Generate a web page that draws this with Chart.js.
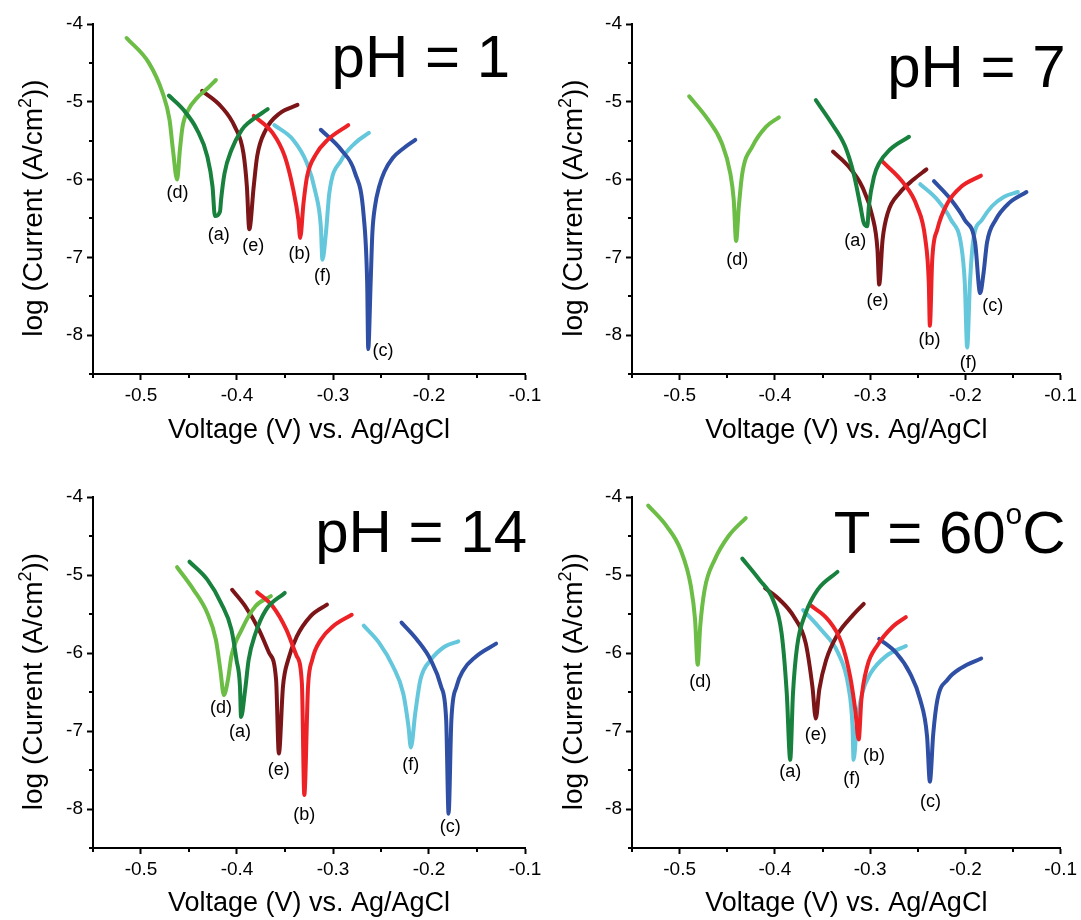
<!DOCTYPE html>
<html>
<head>
<meta charset="utf-8">
<title>Tafel plots</title>
<script src="https://cdn.jsdelivr.net/npm/chart.js@4.4.1/dist/chart.umd.min.js"></script>
<style>
  body { margin: 0; background: #fff; }
  #wrap { position: relative; width: 1081px; height: 920px; overflow: hidden; }
  #wrap canvas { position: absolute; }
</style>
</head>
<body>
<div id="wrap">
  <canvas id="c1" width="560" height="460" style="left:0;top:0"></canvas>
  <canvas id="c2" width="541" height="460" style="left:540px;top:0"></canvas>
  <canvas id="c3" width="560" height="460" style="left:0;top:460px"></canvas>
  <canvas id="c4" width="541" height="460" style="left:540px;top:460px"></canvas>
</div>
<script>
const FONT = '"Liberation Sans", Arial, Helvetica, sans-serif';
Chart.defaults.font.family = FONT;
Chart.defaults.color = '#000';

// each point: [voltage vs Ag/AgCl (V), log current (A/cm2)]
// pH = 1
const ph1_a = [[-0.471,-4.92],[-0.456,-5.10],[-0.4416,-5.36],[-0.431,-5.70],[-0.4255,-6.09],[-0.423,-6.47],[-0.4177,-6.41],[-0.4166,-6.26],[-0.413,-5.92],[-0.4058,-5.62],[-0.395,-5.36],[-0.388,-5.27],[-0.368,-5.095]];
const ph1_b = [[-0.3826,-5.18],[-0.3629,-5.40],[-0.3503,-5.70],[-0.3414,-6.13],[-0.336,-6.52],[-0.3342,-6.75],[-0.3307,-6.30],[-0.327,-5.96],[-0.318,-5.68],[-0.3056,-5.49],[-0.2841,-5.30]];
const ph1_c = [[-0.3127,-5.36],[-0.2913,-5.62],[-0.2769,-5.92],[-0.268,-6.47],[-0.2644,-7.33],[-0.2633,-8.18],[-0.2608,-7.33],[-0.259,-6.69],[-0.2562,-6.34],[-0.2519,-6.09],[-0.2465,-5.90],[-0.2376,-5.72],[-0.2268,-5.60],[-0.2143,-5.49]];
const ph1_d = [[-0.515,-4.18],[-0.4918,-4.50],[-0.4774,-4.89],[-0.4703,-5.23],[-0.4667,-5.62],[-0.4624,-6.00],[-0.4595,-5.62],[-0.4567,-5.32],[-0.4506,-5.10],[-0.4416,-4.95],[-0.4309,-4.83],[-0.422,-4.72]];
const ph1_e = [[-0.4363,-4.86],[-0.4166,-5.06],[-0.4023,-5.32],[-0.3933,-5.66],[-0.3897,-6.09],[-0.3872,-6.64],[-0.3826,-6.09],[-0.379,-5.70],[-0.37,-5.36],[-0.3557,-5.15],[-0.337,-5.04]];
const ph1_f = [[-0.3611,-5.30],[-0.3414,-5.49],[-0.3271,-5.79],[-0.3181,-6.17],[-0.3127,-6.60],[-0.311,-7.03],[-0.3074,-6.69],[-0.3038,-6.17],[-0.2913,-5.75],[-0.2769,-5.53],[-0.2626,-5.40]];
const ph1_tags = [[-0.419,-6.71],[-0.335,-6.96],[-0.248,-8.21],[-0.462,-6.17],[-0.383,-6.86],[-0.311,-7.24]];

// pH = 7
const ph7_a = [[-0.357,-4.98],[-0.3408,-5.27],[-0.3264,-5.57],[-0.3174,-5.92],[-0.3102,-6.34],[-0.3066,-6.56],[-0.303,-6.60],[-0.3013,-6.34],[-0.2959,-5.96],[-0.2905,-5.79],[-0.2797,-5.62],[-0.2592,-5.45]];
const ph7_b = [[-0.2869,-5.77],[-0.2653,-6.04],[-0.2509,-6.34],[-0.242,-6.77],[-0.2384,-7.33],[-0.2373,-7.88],[-0.2348,-7.03],[-0.2294,-6.64],[-0.2186,-6.30],[-0.2042,-6.09],[-0.1837,-5.95]];
const ph7_c = [[-0.233,-6.02],[-0.215,-6.26],[-0.2006,-6.52],[-0.1898,-6.81],[-0.1845,-7.46],[-0.1809,-7.20],[-0.1773,-6.81],[-0.1683,-6.52],[-0.1539,-6.30],[-0.1359,-6.16]];
const ph7_d = [[-0.490,-4.93],[-0.4702,-5.23],[-0.4558,-5.53],[-0.4468,-5.92],[-0.4432,-6.26],[-0.4407,-6.79],[-0.4378,-6.34],[-0.4342,-5.92],[-0.4234,-5.57],[-0.4091,-5.32],[-0.3958,-5.20]];
const ph7_e = [[-0.339,-5.64],[-0.3228,-5.83],[-0.3084,-6.09],[-0.2977,-6.47],[-0.2923,-6.90],[-0.2905,-7.35],[-0.2869,-6.77],[-0.2815,-6.43],[-0.2689,-6.17],[-0.2545,-6.00],[-0.2409,-5.87]];
const ph7_f = [[-0.2474,-6.06],[-0.2294,-6.26],[-0.215,-6.52],[-0.2042,-6.86],[-0.2006,-7.33],[-0.1981,-8.16],[-0.1952,-7.33],[-0.1916,-6.77],[-0.1827,-6.52],[-0.1719,-6.34],[-0.1593,-6.22],[-0.1449,-6.16]];
const ph7_tags = [[-0.3156,-6.79],[-0.2376,-8.06],[-0.1712,-7.63],[-0.4396,-7.03],[-0.2923,-7.56],[-0.197,-8.36]];

// pH = 14
const ph14_a = [[-0.4495,-4.83],[-0.4309,-5.06],[-0.4166,-5.36],[-0.4058,-5.70],[-0.4005,-6.09],[-0.3969,-6.43],[-0.3958,-6.82],[-0.3915,-6.47],[-0.3879,-6.09],[-0.3808,-5.75],[-0.37,-5.45],[-0.3503,-5.23]];
const ph14_b = [[-0.379,-5.22],[-0.3629,-5.40],[-0.3486,-5.70],[-0.3378,-6.04],[-0.3324,-6.39],[-0.3299,-7.82],[-0.326,-6.43],[-0.3217,-6.09],[-0.3127,-5.83],[-0.3002,-5.66],[-0.2805,-5.51]];
const ph14_c = [[-0.2286,-5.61],[-0.2125,-5.83],[-0.1982,-6.09],[-0.1874,-6.43],[-0.1821,-6.86],[-0.1796,-8.06],[-0.1767,-6.86],[-0.1713,-6.43],[-0.1642,-6.22],[-0.1516,-6.05],[-0.1301,-5.88]];
const ph14_d = [[-0.4624,-4.90],[-0.4452,-5.19],[-0.4309,-5.49],[-0.422,-5.83],[-0.4173,-6.22],[-0.4137,-6.54],[-0.4094,-6.34],[-0.4058,-6.04],[-0.3951,-5.70],[-0.3808,-5.40],[-0.3647,-5.27]];
const ph14_e = [[-0.4051,-5.19],[-0.3915,-5.40],[-0.3772,-5.70],[-0.3665,-6.00],[-0.3593,-6.34],[-0.3564,-7.29],[-0.3521,-6.43],[-0.3468,-6.09],[-0.3378,-5.79],[-0.3235,-5.53],[-0.3063,-5.38]];
const ph14_f = [[-0.268,-5.65],[-0.2519,-5.87],[-0.2376,-6.17],[-0.2268,-6.52],[-0.2214,-6.94],[-0.2189,-7.21],[-0.2143,-6.77],[-0.2089,-6.34],[-0.1982,-6.09],[-0.1839,-5.92],[-0.1695,-5.85]];
const ph14_tags = [[-0.3969,-7.01],[-0.3299,-8.08],[-0.1778,-8.23],[-0.4166,-6.71],[-0.3564,-7.50],[-0.2189,-7.44]];

// T = 60 oC
const t60_a = [[-0.4342,-4.79],[-0.4163,-5.06],[-0.4019,-5.32],[-0.3929,-5.75],[-0.3875,-6.52],[-0.3839,-7.37],[-0.381,-6.52],[-0.3767,-5.92],[-0.3677,-5.49],[-0.3552,-5.19],[-0.3343,-4.96]];
const t60_b = [[-0.3624,-5.39],[-0.3444,-5.57],[-0.33,-5.87],[-0.321,-6.30],[-0.3156,-6.73],[-0.312,-7.11],[-0.3092,-6.60],[-0.303,-6.17],[-0.2923,-5.90],[-0.2761,-5.66],[-0.2625,-5.54]];
const t60_c = [[-0.2905,-5.82],[-0.2725,-6.00],[-0.2581,-6.26],[-0.2474,-6.60],[-0.2402,-7.07],[-0.2373,-7.65],[-0.2337,-7.03],[-0.2294,-6.60],[-0.2186,-6.34],[-0.2042,-6.19],[-0.1834,-6.07]];
const t60_d = [[-0.533,-4.11],[-0.5133,-4.38],[-0.4989,-4.68],[-0.4881,-5.15],[-0.4838,-5.57],[-0.481,-6.15],[-0.4784,-5.66],[-0.4738,-5.19],[-0.463,-4.80],[-0.4486,-4.50],[-0.4306,-4.27]];
const t60_e = [[-0.4102,-5.17],[-0.3947,-5.32],[-0.3803,-5.53],[-0.3677,-5.87],[-0.3606,-6.43],[-0.357,-6.84],[-0.3534,-6.47],[-0.3462,-6.09],[-0.3336,-5.75],[-0.3192,-5.53],[-0.3067,-5.37]];
const t60_f = [[-0.3703,-5.45],[-0.3516,-5.70],[-0.3336,-6.00],[-0.3228,-6.43],[-0.3185,-6.94],[-0.3174,-7.37],[-0.3138,-6.90],[-0.3084,-6.52],[-0.2995,-6.26],[-0.2833,-6.04],[-0.2625,-5.91]];
const t60_tags = [[-0.3839,-7.52],[-0.2959,-7.32],[-0.2366,-7.91],[-0.4784,-6.37],[-0.357,-7.05],[-0.3192,-7.62]];

const curveNames = ['(a)', '(b)', '(c)', '(d)', '(e)', '(f)'];
const curveColors = ['#17813d', '#ec2227', '#2f4fa4', '#6bbd45', '#7b1518', '#64c7db'];
const xMinor = [-0.55, -0.45, -0.35, -0.25, -0.15];
const yMinor = [-8.5, -7.5, -6.5, -5.5, -4.5];
const xTitle = 'Voltage (V) vs. Ag/AgCl';
const yTitle = [{t: 'log (Current (A/cm'}, {t: '2', sup: true}, {t: '))'}];

// draws text pieces with optional superscripts
function drawParts(ctx, parts, x, y, size, align, supScale, supRise) {
  const fontOf = p => (p.sup ? Math.round(size * supScale) : size) + 'px ' + FONT;
  let total = 0;
  parts.forEach(p => { ctx.font = fontOf(p); total += ctx.measureText(p.t).width; });
  let cx = align === 'right' ? x - total : align === 'center' ? x - total / 2 : x;
  ctx.textAlign = 'left';
  ctx.textBaseline = 'alphabetic';
  parts.forEach(p => {
    ctx.font = fontOf(p);
    ctx.fillText(p.t, cx, p.sup ? y - size * supRise : y);
    cx += ctx.measureText(p.t).width;
  });
}

const extras = {
  id: 'extras',
  afterDraw(chart, args, o) {
    const {ctx, chartArea: ca, scales: {x, y}} = chart;
    ctx.save();
    // minor ticks
    ctx.strokeStyle = '#000';
    ctx.lineWidth = 2;
    ctx.beginPath();
    yMinor.forEach(v => { const p = Math.round(y.getPixelForValue(v)); ctx.moveTo(ca.left - 4, p); ctx.lineTo(ca.left, p); });
    xMinor.forEach(v => { const p = Math.round(x.getPixelForValue(v)); ctx.moveTo(p, ca.bottom); ctx.lineTo(p, ca.bottom + 4); });
    ctx.stroke();
    // curve letters
    ctx.fillStyle = '#000';
    ctx.font = '18px ' + FONT;
    ctx.textAlign = 'center';
    ctx.textBaseline = 'middle';
    o.tags.forEach((t, i) => ctx.fillText(curveNames[i], x.getPixelForValue(t[0]), y.getPixelForValue(t[1])));
    // big panel title
    drawParts(ctx, o.title, ca.right + o.titleDx, o.titleY, 60, 'right', 0.5, 0.49);
    // y axis title
    ctx.translate(33, (ca.top + ca.bottom) / 2 + 9);
    ctx.rotate(-Math.PI / 2);
    drawParts(ctx, yTitle, 0, 9, 28, 'center', 0.65, 0.4);
    ctx.restore();
  }
};

function makePanel(id, series, o) {
  return new Chart(document.getElementById(id), {
    type: 'line',
    data: {
      datasets: series.map((s, i) => ({
        label: curveNames[i],
        data: s.map(p => ({x: p[0], y: p[1]})),
        borderColor: curveColors[i],
        backgroundColor: curveColors[i],
        borderWidth: 4,
        pointRadius: 0,
        cubicInterpolationMode: 'monotone',
        borderCapStyle: 'round',
        borderJoinStyle: 'round',
        fill: false
      }))
    },
    options: {
      responsive: false,
      animation: false,
      devicePixelRatio: 1,
      events: [],
      layout: {padding: {left: 0, top: o.top, right: o.right, bottom: 0}},
      plugins: {
        legend: {display: false},
        tooltip: {enabled: false},
        extras: o
      },
      scales: {
        x: {
          type: 'linear',
          position: 'bottom',
          min: -0.55,
          max: -0.1,
          border: {display: true, color: '#000', width: 2},
          grid: {drawOnChartArea: false, drawTicks: true, tickLength: 6, tickWidth: 2, tickColor: '#000'},
          ticks: {stepSize: 0.1, includeBounds: false, padding: 4, maxRotation: 0, color: '#000', font: {size: 19}},
          title: {display: true, text: xTitle, color: '#000', font: {size: 27}, padding: {top: 0, bottom: o.xTitlePad}},
          afterFit: s => { s.height = o.xAxisH; }
        },
        y: {
          type: 'linear',
          position: 'left',
          min: -8.5,
          max: -4,
          border: {display: true, color: '#000', width: 2},
          grid: {drawOnChartArea: false, drawTicks: true, tickLength: 6, tickWidth: 2, tickColor: '#000'},
          ticks: {stepSize: 1, includeBounds: false, padding: 4, color: '#000', font: {size: 19}},
          afterFit: s => { s.width = o.yAxisW; }
        }
      }
    },
    plugins: [extras]
  });
}

makePanel('c1', [ph1_a, ph1_b, ph1_c, ph1_d, ph1_e, ph1_f],
  {tags: ph1_tags, title: [{t: 'pH = 1'}], titleDx: -15, titleY: 77, top: 24, right: 35, yAxisW: 93, xAxisH: 86, xTitlePad: 13});
makePanel('c2', [ph7_a, ph7_b, ph7_c, ph7_d, ph7_e, ph7_f],
  {tags: ph7_tags, title: [{t: 'pH = 7'}], titleDx: 5, titleY: 87, top: 24, right: 17, yAxisW: 92, xAxisH: 86, xTitlePad: 13});
makePanel('c3', [ph14_a, ph14_b, ph14_c, ph14_d, ph14_e, ph14_f],
  {tags: ph14_tags, title: [{t: 'pH = 14'}], titleDx: 2, titleY: 92, top: 37, right: 35, yAxisW: 93, xAxisH: 72, xTitlePad: 0});
makePanel('c4', [t60_a, t60_b, t60_c, t60_d, t60_e, t60_f],
  {tags: t60_tags, title: [{t: 'T = 60'}, {t: 'o', sup: true}, {t: 'C'}], titleDx: 5, titleY: 93, top: 37, right: 17, yAxisW: 92, xAxisH: 72, xTitlePad: 0});
</script>
</body>
</html>
